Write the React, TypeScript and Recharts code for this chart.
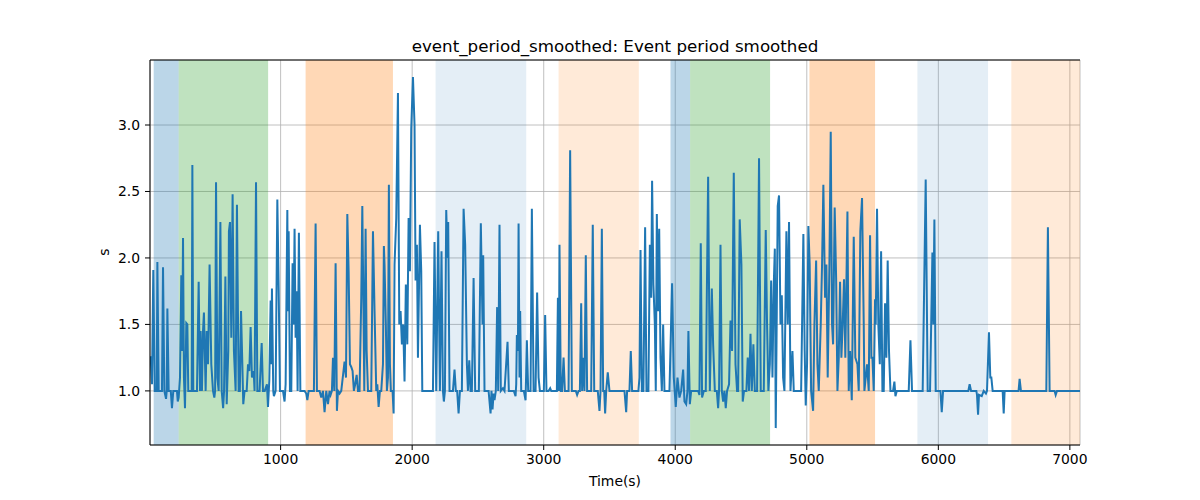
import { LineChart, Line, XAxis, YAxis, CartesianGrid, ReferenceArea, ReferenceLine } from "recharts";

// time (s), smoothed event period (s), by phase
const segA: [number, number][] = [
  [7, 1.22], [12, 1.26], [22, 1.05], [32, 1.91], [43, 1.0], [58, 1.0], [63, 1.97], [73, 1.0], [98, 1.0],
  [106, 1.93], [116, 1.0], [129, 0.94], [134, 1.0], [139, 1.62], [149, 1.0], [165, 1.0], [174, 0.87],
  [184, 1.0], [212, 1.0], [218, 0.92], [225, 0.95], [235, 1.1], [245, 1.87], [252, 1.3], [258, 2.15],
  [265, 1.1], [273, 0.87], [283, 1.51], [291, 1.5], [298, 1.0], [324, 1.0], [329, 2.7], [336, 1.0],
  [364, 1.0], [377, 1.82], [387, 1.0], [392, 1.45], [402, 1.0], [410, 1.45], [417, 1.59], [430, 1.0],
  [438, 1.45], [448, 1.2], [460, 1.95], [473, 1.2], [486, 1.0], [496, 0.95], [502, 1.0], [509, 2.57],
  [519, 1.1], [529, 1.0], [542, 2.27], [552, 1.0], [563, 0.87], [570, 1.0], [580, 1.86], [590, 0.9],
  [602, 1.3], [607, 2.2], [615, 2.27], [625, 1.4], [635, 2.48], [645, 1.3], [658, 1.0], [668, 2.4],
  [681, 1.0], [690, 1.0], [699, 1.6], [709, 1.2], [716, 0.9], [726, 1.0], [742, 1.0], [752, 1.2],
  [762, 1.15], [772, 1.48], [782, 1.1], [795, 1.15], [802, 1.0], [813, 2.57], [823, 1.0], [840, 1.0],
  [856, 1.36], [866, 1.0],
];
const segB: [number, number][] = [
  [879, 1.0], [896, 1.05], [904, 0.88], [914, 1.08], [924, 1.68], [929, 1.2], [934, 1.77], [944, 1.0],
  [949, 0.96], [962, 1.0], [975, 2.44], [985, 1.78], [995, 1.0], [1018, 1.0], [1030, 0.92], [1038, 1.05],
  [1051, 2.36], [1056, 1.6], [1061, 2.2], [1071, 1.0], [1081, 1.0], [1091, 1.96], [1099, 1.5], [1106, 2.22],
  [1114, 1.4], [1122, 1.75], [1129, 1.0], [1139, 2.19], [1150, 1.0], [1182, 1.0], [1195, 0.98], [1203, 0.93],
  [1213, 1.0], [1253, 1.0], [1266, 2.26], [1276, 1.0], [1296, 1.0], [1309, 0.95], [1322, 1.0], [1334, 0.84],
  [1347, 1.0], [1360, 0.9], [1372, 1.0], [1380, 0.97], [1390, 1.0], [1398, 1.25], [1408, 1.0], [1418, 1.96],
  [1428, 0.85], [1436, 1.0], [1448, 0.98], [1461, 1.0], [1486, 1.22], [1497, 1.1], [1507, 2.33], [1517, 1.9],
  [1527, 1.2], [1537, 1.18], [1547, 1.15], [1557, 1.0], [1567, 1.05], [1578, 1.12], [1588, 1.0], [1600, 1.0],
  [1613, 1.7], [1621, 2.39], [1631, 1.5], [1636, 1.0], [1646, 2.22], [1654, 1.3], [1664, 1.0], [1689, 1.0],
  [1702, 2.2], [1714, 1.6], [1727, 1.0], [1735, 1.05], [1745, 0.88], [1755, 1.0], [1765, 1.0], [1778, 1.2],
  [1785, 2.09],
];
const segC: [number, number][] = [
  [1790, 1.95], [1800, 1.5], [1808, 1.0], [1816, 1.1], [1823, 2.55], [1831, 1.2], [1838, 1.0], [1851, 1.0],
  [1859, 0.83], [1866, 1.95], [1879, 2.3], [1892, 3.24], [1902, 1.5], [1912, 1.6], [1922, 1.35], [1932, 1.5],
  [1942, 1.07], [1952, 1.8], [1963, 1.35], [1973, 2.3], [1983, 1.9], [1993, 2.97], [2006, 3.36], [2018, 3.0],
  [2026, 1.83], [2036, 2.1], [2044, 1.25], [2059, 2.25], [2069, 1.9], [2077, 1.0], [2158, 1.0], [2170, 2.12],
  [2183, 1.0], [2198, 2.2], [2211, 1.0], [2223, 2.05], [2234, 1.0], [2241, 0.92], [2249, 1.0], [2259, 2.36],
  [2269, 2.0], [2274, 2.27], [2284, 1.0], [2310, 1.0], [2322, 1.16], [2332, 1.0], [2342, 1.0], [2353, 0.83],
  [2363, 1.0], [2378, 1.0], [2391, 2.37], [2403, 2.1], [2416, 1.2], [2424, 1.0], [2434, 1.23], [2444, 1.0],
  [2454, 1.0], [2467, 1.85], [2479, 1.0], [2507, 1.0], [2522, 2.26], [2535, 1.5], [2540, 2.02], [2550, 1.0],
  [2581, 1.0], [2596, 0.83], [2603, 1.0], [2611, 0.86], [2619, 0.98], [2626, 0.93], [2636, 1.0], [2646, 1.63],
  [2654, 1.0], [2664, 2.25], [2674, 1.0], [2690, 1.02],
];
const segD: [number, number][] = [
  [2702, 1.0], [2725, 1.37], [2735, 1.0], [2773, 1.0], [2786, 0.96], [2791, 1.05], [2796, 1.42], [2804, 1.3],
  [2809, 2.26], [2816, 1.1], [2821, 1.6], [2829, 1.0], [2849, 1.0], [2862, 0.93], [2867, 1.15], [2872, 1.38],
  [2882, 1.0], [2900, 1.0], [2910, 2.37], [2923, 1.0], [2938, 1.0], [2950, 1.74], [2961, 1.1], [2971, 1.0],
  [3001, 1.0], [3011, 1.57], [3021, 1.0], [3037, 1.0], [3049, 1.02], [3057, 1.0], [3100, 1.0], [3108, 1.7],
  [3115, 1.0], [3120, 2.1], [3130, 1.0], [3140, 1.0], [3151, 1.25], [3161, 1.0], [3189, 1.0], [3201, 2.81],
  [3214, 1.0], [3244, 1.0], [3254, 0.97], [3265, 1.0], [3275, 1.0], [3285, 1.66], [3292, 1.0], [3300, 1.25],
  [3310, 1.0], [3320, 2.02], [3330, 1.0], [3361, 1.0], [3373, 2.25], [3384, 1.0], [3411, 1.0], [3424, 0.85],
  [3432, 1.0], [3442, 2.22], [3452, 1.0], [3460, 1.0], [3467, 0.83], [3475, 1.0], [3487, 1.14], [3500, 1.0],
];
const segE: [number, number][] = [
  [3614, 1.0], [3627, 0.84], [3634, 1.0], [3652, 1.0], [3662, 1.3], [3672, 1.0], [3720, 1.0], [3728, 1.1],
  [3736, 2.06], [3746, 1.0], [3758, 1.0], [3771, 2.23], [3781, 1.0], [3796, 1.0], [3807, 2.1], [3817, 1.7],
  [3824, 2.58], [3834, 1.8], [3845, 1.5], [3852, 1.0], [3860, 2.33], [3870, 1.6], [3878, 2.22], [3888, 1.25],
  [3898, 1.0], [3908, 1.5], [3918, 1.0], [3956, 1.0], [3976, 1.81], [3989, 1.1], [4004, 0.88], [4017, 1.1],
  [4032, 0.95], [4045, 1.0], [4060, 1.16], [4070, 0.92], [4083, 0.9], [4093, 1.0], [4100, 1.45], [4111, 0.9],
  [4121, 1.0], [4174, 1.0], [4184, 0.97], [4194, 2.11], [4204, 0.95], [4217, 1.0], [4232, 1.0], [4250, 2.61],
  [4263, 1.0], [4278, 1.77], [4288, 1.35], [4301, 1.0], [4316, 1.0], [4326, 0.87], [4333, 1.0], [4344, 2.1],
  [4354, 1.0], [4364, 0.92], [4374, 1.0], [4384, 0.87], [4394, 1.0], [4409, 1.05], [4420, 1.53], [4432, 1.3],
  [4445, 2.64], [4458, 1.2], [4470, 1.0], [4478, 1.0], [4490, 2.29], [4503, 1.95], [4513, 0.92], [4523, 1.0],
];
const segF: [number, number][] = [
  [4541, 1.0], [4551, 1.25], [4561, 1.0], [4572, 1.43], [4582, 1.0], [4594, 1.35], [4605, 1.0], [4622, 1.0],
  [4637, 2.75], [4650, 1.0], [4673, 1.0], [4688, 2.21], [4698, 1.5], [4708, 1.0], [4719, 1.2], [4729, 1.83],
  [4739, 1.1], [4749, 1.8], [4757, 2.07], [4764, 0.72], [4772, 1.6], [4779, 2.39], [4789, 2.47], [4800, 1.5],
  [4810, 1.72], [4820, 1.1], [4830, 1.0], [4845, 2.2], [4855, 1.5], [4865, 2.27], [4876, 1.0], [4891, 1.3],
  [4901, 1.0], [4957, 1.0], [4974, 2.18], [4984, 1.3], [4992, 0.89], [5002, 1.2], [5012, 2.24], [5022, 1.95],
  [5033, 1.0], [5048, 0.85], [5058, 1.5], [5071, 1.98], [5081, 1.2], [5091, 1.0], [5106, 1.5], [5116, 1.95],
  [5126, 2.55], [5139, 1.7], [5149, 1.95], [5159, 1.1], [5172, 1.95], [5182, 2.95], [5192, 1.5], [5200, 1.35],
  [5212, 2.38], [5223, 1.85], [5233, 1.0], [5243, 1.25], [5253, 1.82], [5263, 1.25], [5273, 1.5], [5283, 1.84],
  [5293, 1.25], [5309, 2.35], [5319, 1.0], [5329, 1.3], [5342, 0.93], [5357, 2.16], [5369, 1.25], [5385, 1.2],
  [5395, 1.0], [5407, 2.2], [5420, 2.45], [5433, 1.5],
];
const segG: [number, number][] = [
  [5438, 1.0], [5458, 1.2], [5471, 1.0], [5481, 2.17], [5491, 1.25], [5499, 1.25], [5509, 1.0], [5519, 1.69],
  [5524, 1.5], [5534, 2.37], [5544, 1.5], [5555, 1.2], [5565, 2.05], [5575, 1.0], [5585, 1.0], [5595, 1.66],
  [5605, 1.25], [5615, 1.98], [5625, 1.3], [5636, 1.0], [5656, 1.0], [5666, 1.07], [5674, 0.96], [5684, 1.0],
  [5775, 1.0], [5788, 1.38], [5800, 1.0], [5881, 1.0], [5904, 2.59], [5919, 1.0], [5937, 1.0], [5955, 2.04],
  [5962, 1.5], [5970, 2.29], [5980, 1.0], [6016, 1.0], [6026, 0.84], [6036, 1.0], [6228, 1.0], [6238, 1.05],
  [6249, 1.0], [6289, 1.0], [6294, 0.97], [6302, 0.82], [6309, 0.97], [6330, 0.96], [6345, 1.0], [6362, 0.98],
  [6370, 1.0], [6385, 1.44], [6395, 1.1], [6403, 1.1], [6413, 1.0], [6489, 1.0], [6497, 0.83], [6504, 1.0],
  [6610, 1.0], [6618, 1.09], [6628, 1.0], [6821, 1.0], [6833, 2.23], [6846, 1.0], [6884, 1.0], [6892, 0.97],
  [6902, 1.0], [7077, 1.0],
];

// shaded phases (start, end in seconds)
const phases = [
  { start: 35, end: 225, kind: "blue" },
  { start: 225, end: 905, kind: "green" },
  { start: 1190, end: 1854, kind: "orange" },
  { start: 2178, end: 2867, kind: "lightBlue" },
  { start: 3113, end: 3723, kind: "lightOrange" },
  { start: 3964, end: 4113, kind: "blue" },
  { start: 4113, end: 4721, kind: "green" },
  { start: 5020, end: 5519, kind: "orange" },
  { start: 5841, end: 6378, kind: "lightBlue" },
  { start: 6555, end: 7077, kind: "lightOrange" },
];

const xTicks = [1000, 2000, 3000, 4000, 5000, 6000, 7000];
const yTicks = [1.0, 1.5, 2.0, 2.5, 3.0];

const X_DOMAIN = [7, 7077];
const Y_DOMAIN = [0.593, 3.489];

const PHASE_STYLE: Record<string, { fill: string; opacity: number }> = {
  blue: { fill: "#1f77b4", opacity: 0.3 },
  green: { fill: "#2ca02c", opacity: 0.3 },
  orange: { fill: "#ff7f0e", opacity: 0.3 },
  lightBlue: { fill: "#1f77b4", opacity: 0.12 },
  lightOrange: { fill: "#ff7f0e", opacity: 0.16 },
};

const FONT = "'DejaVu Sans', sans-serif";

const rows = [...segA, ...segB, ...segC, ...segD, ...segE, ...segF, ...segG].map(([t, v]) => ({ t, v }));

export default function App() {
  return (
    <div style={{ position: "absolute", left: 0, top: 0, width: 1200, height: 500, background: "#fff", fontFamily: FONT }}>
      <div style={{ position: "absolute", left: 150, width: 930, top: 36, textAlign: "center", fontSize: 16.7, lineHeight: "20px", color: "#000" }}>
        event_period_smoothed: Event period smoothed
      </div>
      <div style={{ position: "absolute", left: 150, width: 930, top: 472, textAlign: "center", fontSize: 13.9, lineHeight: "18px", color: "#000" }}>
        Time(s)
      </div>
      <div style={{ position: "absolute", left: 84, width: 40, top: 243, textAlign: "center", fontSize: 13.9, lineHeight: "18px", color: "#000", transform: "rotate(-90deg)" }}>
        s
      </div>
      <LineChart
        width={1200}
        height={500}
        data={rows}
        margin={{ top: 60, right: 120, bottom: 10, left: 90 }}
        style={{ fontFamily: FONT }}
      >
        <CartesianGrid stroke="#b0b0b0" strokeWidth={0.8} />
        {phases.map((p, i) => (
          <ReferenceArea
            key={i}
            x1={p.start}
            x2={p.end}
            fill={PHASE_STYLE[p.kind].fill}
            fillOpacity={PHASE_STYLE[p.kind].opacity}
            stroke="none"
            ifOverflow="hidden"
          />
        ))}
        <XAxis
          dataKey="t"
          type="number"
          domain={X_DOMAIN}
          allowDataOverflow
          ticks={xTicks}
          height={45}
          tickSize={5}
          tickMargin={4}
          tick={{ fill: "#000", fontSize: 13.9 }}
          tickLine={{ stroke: "#000" }}
          axisLine={{ stroke: "#000" }}
        />
        <YAxis
          type="number"
          domain={Y_DOMAIN}
          allowDataOverflow
          ticks={yTicks}
          width={60}
          tickSize={5}
          tickMargin={5}
          tickFormatter={(v: number) => v.toFixed(1)}
          tick={{ fill: "#000", fontSize: 13.9 }}
          tickLine={{ stroke: "#000" }}
          axisLine={{ stroke: "#000" }}
        />
        <YAxis
          yAxisId="right"
          orientation="right"
          type="number"
          domain={Y_DOMAIN}
          allowDataOverflow
          width={0}
          tick={false}
          tickLine={false}
          axisLine={{ stroke: "#000" }}
        />
        <Line
          type="linear"
          dataKey="v"
          stroke="#1f77b4"
          strokeWidth={2}
          dot={false}
          activeDot={false}
          isAnimationActive={false}
        />
        <ReferenceLine y={Y_DOMAIN[1]} stroke="#000" strokeWidth={1} ifOverflow="visible" />
      </LineChart>
    </div>
  );
}
